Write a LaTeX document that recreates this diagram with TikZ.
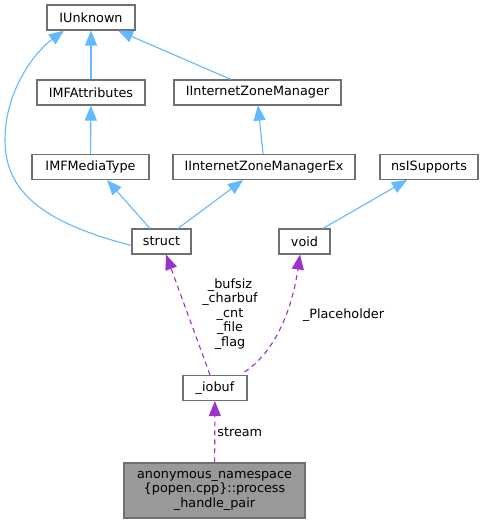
\documentclass[tikz,border=0pt]{standalone}
\usepackage{fontspec}
\setmainfont{DejaVu Sans}
\usetikzlibrary{arrows.meta}
\definecolor{edgeblue}{HTML}{63B8FF}
\definecolor{edgepurple}{HTML}{9A32CD}
\definecolor{boxline}{HTML}{707070}
\definecolor{boxfill}{HTML}{999999}
\tikzset{
  cls/.style={draw=boxline, fill=white, line width=1.1pt, minimum height=25pt,
    inner sep=0pt, font=\fontsize{12.8}{15}\selectfont},
  inherit/.style={draw=edgeblue, line width=1.1pt,
    -{Triangle[length=15pt,width=12pt,fill=edgeblue]}},
  usage/.style={draw=edgepurple, line width=1.1pt, dash pattern=on 5pt off 4pt,
    -{Triangle[length=15pt,width=12pt,fill=edgepurple]}},
  lbl/.style={font=\fontsize{12.8}{14.5}\selectfont, align=center, inner sep=0pt},
}
\begin{document}
\begin{tikzpicture}[x=1pt, y=-1pt]
  \useasboundingbox (0,0) rectangle (484,524);
  % classes
  \node[cls, minimum width=88pt] (iunk) at (91,17.5) {IUnknown};
  \node[cls, minimum width=108pt] (imfattr) at (91,92.5) {IMFAttributes};
  \node[cls, minimum width=167pt] (izm) at (257.5,92.5) {IInternetZoneManager};
  \node[cls, minimum width=117pt] (imfmedia) at (90.5,167) {IMFMediaType};
  \node[cls, minimum width=182pt] (izmex) at (264,167) {IInternetZoneManagerEx};
  \node[cls, minimum width=98pt] (nssup) at (429,167) {nsISupports};
  \node[cls, minimum width=59pt] (struct) at (161.5,241.5) {struct};
  \node[cls, minimum width=51pt] (void) at (304.5,241.5) {void};
  \node[cls, minimum width=64pt] (iobuf) at (215,388) {\_iobuf};
  \node[cls, fill=boxfill, minimum width=181pt, minimum height=55pt, align=center,
    font=\fontsize{12.8}{14.5}\selectfont] (pair) at (214.5,490.5)
    {anonymous\_namespace\\\{popen.cpp\}::process\\\_handle\_pair};
  % inheritance
  \draw[inherit] (imfattr) -- (iunk);
  \draw[inherit] ([xshift=-26.5pt]izm.north) -- ([xshift=27pt]iunk.south);
  \draw[inherit] (imfmedia) -- (imfattr);
  \draw[inherit] ([xshift=-1pt]izmex.north) -- ([xshift=0.5pt]izm.south);
  \draw[inherit] ([xshift=-11.5pt]struct.north) -- ([xshift=16.5pt]imfmedia.south);
  \draw[inherit] ([xshift=16.5pt]struct.north) -- ([xshift=-21pt]izmex.south);
  \draw[inherit] ([yshift=-4pt]struct.west) .. controls (40,222) and (5,190) .. (5,140)
    .. controls (5,90) and (35,52) .. ([xshift=-27pt]iunk.south);
  \draw[inherit] ([xshift=18.5pt]void.north) -- ([xshift=-22pt]nssup.south);
  % usage
  \draw[usage] ([xshift=-5pt]iobuf.north) -- ([xshift=4.5pt]struct.south);
  \draw[usage] ([xshift=-3pt,yshift=3pt]iobuf.north east) .. controls (275,352) and (292,310)
    .. ([xshift=-4.5pt]void.south);
  \draw[usage] (pair) -- (iobuf) node[pos=0.5, lbl, right=2pt] (lstream) {stream};
  \node[lbl] (lfields) at (230,314) {\_bufsiz\\\_charbuf\\\_cnt\\\_file\\\_flag};
  \node[lbl] (lplace) at (343.5,315) {\_Placeholder};
\end{tikzpicture}
\end{document}
